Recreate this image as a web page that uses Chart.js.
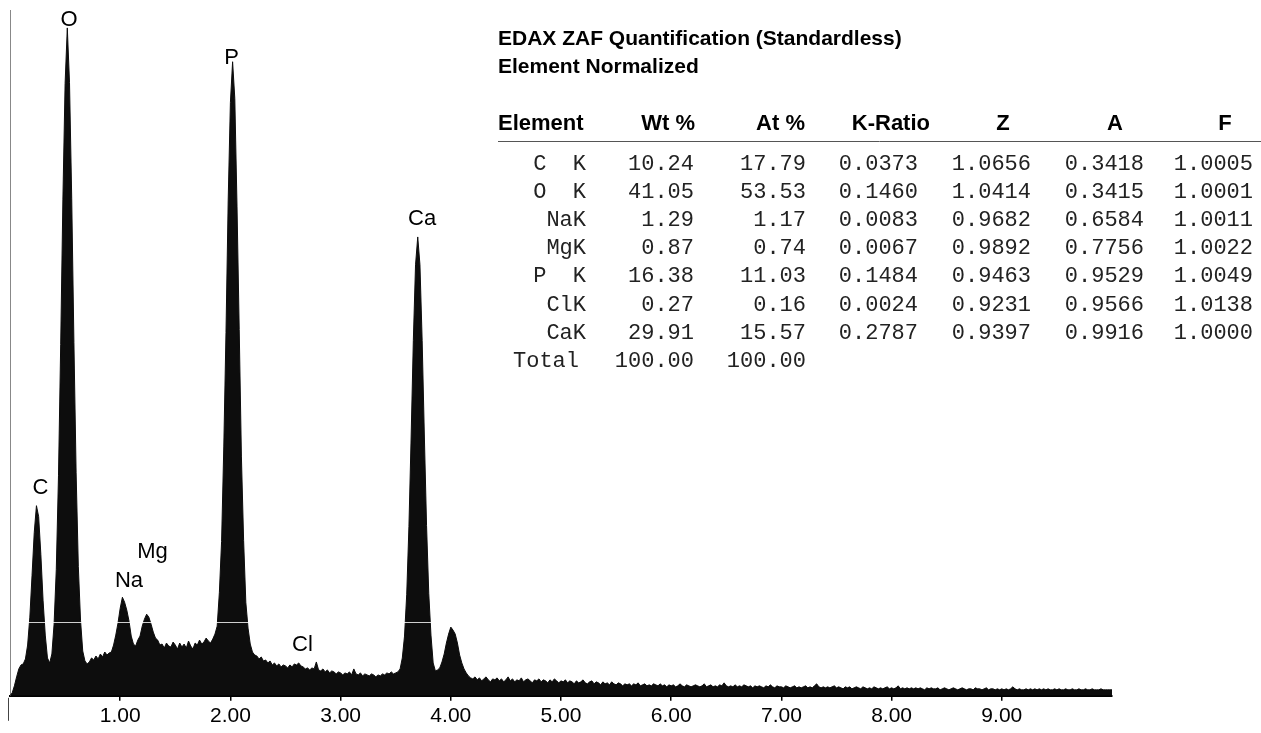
<!DOCTYPE html>
<html>
<head>
<meta charset="utf-8">
<title>EDAX ZAF Quantification</title>
<script src="https://cdn.jsdelivr.net/npm/chart.js@4.4.1/dist/chart.umd.min.js"></script>
<style>
  html, body { margin: 0; padding: 0; background: #fff; }
  #wrap { position: relative; width: 1261px; height: 733px; }
</style>
</head>
<body>
<div id="wrap"><canvas id="spectrum"></canvas></div>
<script>
// spectrum: one count value per channel, 0.02 keV wide, 0 - 10 keV
const channelWidth = 0.02;
const counts = [
  0, 3, 10, 19, 27, 31, 32, 37, 51, 79,            // 0.0
  121, 164, 191, 180, 142, 96, 61, 38, 33, 42,     // 0.2  C
  72, 127, 221, 353, 499, 615, 671, 616, 500, 355, // 0.4  O
  224, 130, 76, 45, 35, 32, 34, 38, 36, 40,        // 0.6
  37, 42, 39, 44, 41, 43, 44, 51, 61, 73,          // 0.8
  88, 99, 94, 86, 75, 60, 52, 50, 56, 60,          // 1.0  Na
  70, 77, 82, 79, 72, 64, 58, 56, 51, 52,          // 1.2  Mg
  48, 53, 50, 49, 54, 51, 47, 53, 49, 52,          // 1.4
  48, 55, 50, 47, 53, 51, 56, 52, 54, 58,          // 1.6
  55, 53, 57, 62, 70, 104, 155, 250, 365, 498,     // 1.8
  596, 637, 600, 492, 368, 240, 156, 94, 68, 52,   // 2.0  P
  44, 41, 40, 37, 39, 35, 36, 33, 35, 31,          // 2.2
  33, 30, 32, 29, 31, 30, 28, 31, 29, 32,          // 2.4
  31, 33, 30, 29, 27, 28, 26, 28, 27, 34,          // 2.6  Cl
  26, 25, 27, 24, 26, 23, 25, 24, 22, 24,          // 2.8
  23, 21, 23, 22, 24, 21, 27, 22, 21, 23,          // 3.0
  20, 22, 21, 20, 22, 21, 19, 21, 20, 22,          // 3.2
  21, 23, 22, 24, 22, 23, 24, 27, 38, 60,          // 3.4
  102, 170, 260, 357, 433, 461, 433, 357, 261, 171, // 3.6 Ca
  103, 61, 33, 25, 26, 28, 34, 42, 53, 62,         // 3.8
  69, 66, 62, 53, 41, 33, 27, 23, 20, 18,          // 4.0  Ca Kb
  17, 19, 16, 18, 15, 17, 19, 16, 14, 17,          // 4.2
  16, 18, 15, 17, 14, 16, 19, 15, 17, 14,          // 4.4
  16, 15, 18, 14, 16, 17, 15, 13, 16, 15,          // 4.6
  17, 14, 16, 15, 13, 16, 14, 17, 15, 13,          // 4.8
  15, 14, 16, 13, 15, 14, 12, 15, 13, 14,          // 5.0
  16, 13, 12, 14, 15, 12, 14, 13, 11, 14,          // 5.2
  12, 13, 11, 14, 12, 11, 13, 12, 10, 12,          // 5.4
  11, 12, 10, 12, 11, 13, 10, 11, 12, 10,          // 5.6
  11, 10, 12, 11, 10, 12, 10, 11, 9, 11,           // 5.8
  10, 11, 9, 10, 12, 10, 9, 11, 10, 9,             // 6.0
  10, 11, 10, 9, 10, 12, 9, 10, 11, 9,             // 6.2
  10, 9, 11, 10, 13, 10, 9, 10, 9, 11,             // 6.4
  9, 10, 9, 11, 10, 9, 10, 8, 10, 9,               // 6.6
  10, 9, 8, 10, 9, 11, 9, 8, 10, 9,                // 6.8
  9, 8, 10, 9, 8, 9, 10, 8, 9, 8,                  // 7.0
  9, 10, 8, 9, 8, 10, 12, 9, 8, 9,                 // 7.2
  8, 9, 8, 9, 10, 8, 9, 8, 7, 9,                   // 7.4
  8, 9, 7, 8, 9, 8, 7, 9, 8, 7,                    // 7.6
  8, 7, 9, 8, 7, 8, 7, 8, 9, 7,                    // 7.8
  8, 7, 8, 10, 7, 8, 7, 8, 7, 8,                   // 8.0
  7, 8, 7, 8, 7, 6, 8, 7, 8, 7,                    // 8.2
  7, 8, 6, 7, 8, 7, 6, 7, 8, 7,                    // 8.4
  6, 7, 8, 7, 6, 7, 7, 6, 8, 7,                    // 8.6
  7, 6, 7, 8, 6, 7, 7, 6, 7, 6,                    // 8.8
  7, 6, 7, 6, 7, 9, 7, 6, 7, 6,                    // 9.0
  6, 7, 6, 7, 6, 7, 6, 7, 6, 7,                    // 9.2
  6, 7, 6, 6, 7, 6, 7, 6, 6, 7,                    // 9.4
  6, 6, 7, 6, 6, 7, 6, 6, 7, 6,                    // 9.6
  6, 7, 6, 6, 6, 7, 6, 6, 6, 6,                    // 9.8
  6                                                // 10.0
];

// peak identification labels (keV, counts at label centre)
const peakLabels = [
  { text: 'C',  keV: 0.277, at: 211 },
  { text: 'O',  keV: 0.535, at: 681 },
  { text: 'Na', keV: 1.08,  at: 117 },
  { text: 'Mg', keV: 1.293, at: 146 },
  { text: 'P',  keV: 2.01,  at: 643 },
  { text: 'Cl', keV: 2.654, at: 53 },
  { text: 'Ca', keV: 3.74,  at: 481 }
];

// quantification table
const tableTitle = ['EDAX ZAF Quantification (Standardless)', 'Element Normalized'];
const tableHeaders = ['Element', 'Wt %', 'At %', 'K-Ratio', 'Z', 'A', 'F'];
const elements = ['C  K', 'O  K', 'NaK', 'MgK', 'P  K', 'ClK', 'CaK'];
const wtPct  = [10.24, 41.05, 1.29, 0.87, 16.38, 0.27, 29.91];
const atPct  = [17.79, 53.53, 1.17, 0.74, 11.03, 0.16, 15.57];
const kRatio = [0.0373, 0.1460, 0.0083, 0.0067, 0.1484, 0.0024, 0.2787];
const zCorr  = [1.0656, 1.0414, 0.9682, 0.9892, 0.9463, 0.9231, 0.9397];
const aCorr  = [0.3418, 0.3415, 0.6584, 0.7756, 0.9529, 0.9566, 0.9916];
const fCorr  = [1.0005, 1.0001, 1.0011, 1.0022, 1.0049, 1.0138, 1.0000];
const totals = ['100.00', '100.00'];

const SANS = 'Arial, "Liberation Sans", sans-serif';
const MONO = '"Courier New", "Liberation Mono", monospace';

// layout of the table
const colRight = [586, 694, 806, 918, 1031, 1144, 1253];
const headerPos = [
  { x: 498, align: 'left' }, { x: 695, align: 'right' }, { x: 805, align: 'right' },
  { x: 930, align: 'right' }, { x: 1003, align: 'center' }, { x: 1115, align: 'center' },
  { x: 1225, align: 'center' }
];
const firstRowBase = 169.5;
const rowStep = 28.2;

const annotate = {
  id: 'annotate',
  afterDatasetsDraw(chart) {
    // thin light cursor line running through the filled peaks
    const { ctx, scales: { x, y } } = chart;
    const yc = Math.round(y.getPixelForValue(74)) + 0.5;
    ctx.save();
    ctx.globalCompositeOperation = 'source-atop';
    ctx.strokeStyle = '#cfcfcf';
    ctx.lineWidth = 1;
    ctx.beginPath();
    ctx.moveTo(x.getPixelForValue(0.12), yc);
    ctx.lineTo(x.getPixelForValue(4.3), yc);
    ctx.stroke();
    ctx.restore();
  },
  afterDraw(chart) {
    const { ctx, chartArea, scales: { x, y } } = chart;
    ctx.save();

    // axis stub below the origin
    ctx.strokeStyle = '#444';
    ctx.lineWidth = 1;
    ctx.beginPath();
    ctx.moveTo(chartArea.left - 1.5, chartArea.bottom + 2);
    ctx.lineTo(chartArea.left - 1.5, chartArea.bottom + 25);
    ctx.stroke();

    // element labels over the peaks
    ctx.fillStyle = '#000';
    ctx.font = '22px ' + SANS;
    ctx.textAlign = 'center';
    ctx.textBaseline = 'alphabetic';
    peakLabels.forEach(p => {
      ctx.fillText(p.text, x.getPixelForValue(p.keV), y.getPixelForValue(p.at) + 8);
    });

    // title
    ctx.textAlign = 'left';
    ctx.font = 'bold 21px ' + SANS;
    ctx.fillText(tableTitle[0], 498, 44.5);
    ctx.fillText(tableTitle[1], 498, 73);

    // header row
    ctx.font = 'bold 22px ' + SANS;
    tableHeaders.forEach((h, i) => {
      ctx.textAlign = headerPos[i].align;
      ctx.fillText(h, headerPos[i].x, 130);
    });
    ctx.strokeStyle = '#555';
    ctx.beginPath();
    ctx.moveTo(498, 141.5);
    ctx.lineTo(1261, 141.5);
    ctx.stroke();

    // body rows
    ctx.font = '22px ' + MONO;
    ctx.fillStyle = '#222';
    ctx.textAlign = 'right';
    elements.forEach((el, r) => {
      const yb = firstRowBase + r * rowStep;
      const cells = [el, wtPct[r].toFixed(2), atPct[r].toFixed(2), kRatio[r].toFixed(4),
                     zCorr[r].toFixed(4), aCorr[r].toFixed(4), fCorr[r].toFixed(4)];
      cells.forEach((c, i) => ctx.fillText(c, colRight[i], yb));
    });
    const yt = firstRowBase + elements.length * rowStep;
    ctx.fillText('Total', colRight[0] - 7, yt);
    ctx.fillText(totals[0], colRight[1], yt);
    ctx.fillText(totals[1], colRight[2], yt);

    ctx.restore();
  }
};

new Chart(document.getElementById('spectrum').getContext('2d'), {
  type: 'line',
  data: {
    datasets: [{
      data: counts.map((c, i) => ({ x: i * channelWidth, y: c })),
      borderColor: '#0d0d0d',
      backgroundColor: '#0d0d0d',
      borderWidth: 1,
      pointRadius: 0,
      tension: 0,
      fill: 'origin'
    }]
  },
  options: {
    responsive: true,
    maintainAspectRatio: false,
    animation: false,
    layout: { padding: { left: 10, right: 149, top: 10, bottom: 1 } },
    plugins: {
      legend: { display: false },
      tooltip: { enabled: false }
    },
    scales: {
      x: {
        type: 'linear',
        min: 0,
        max: 10,
        ticks: {
          stepSize: 1,
          padding: 3,
          autoSkip: false,
          maxRotation: 0,
          color: '#000',
          font: { family: SANS, size: 21 },
          callback: v => (v > 0 && v < 10) ? v.toFixed(2) : null
        },
        grid: { drawOnChartArea: false, drawTicks: true, tickLength: 5, color: '#000', lineWidth: 1.5 },
        border: { display: true, color: '#000', width: 2 }
      },
      y: {
        min: 0,
        max: 689,
        ticks: { display: false },
        grid: { drawOnChartArea: false, drawTicks: false },
        border: { display: true, color: '#888', width: 1, dash: [2, 2] }
      }
    }
  },
  plugins: [annotate]
});
</script>
</body>
</html>
